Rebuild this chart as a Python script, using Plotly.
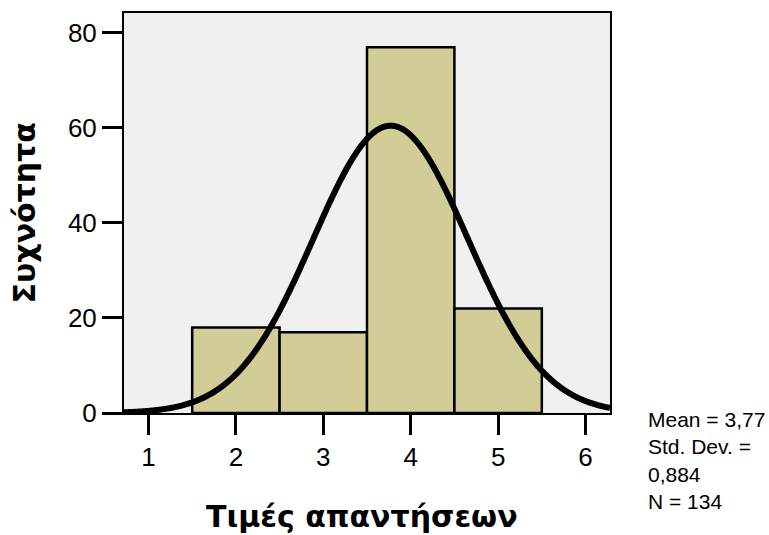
import numpy as np
import plotly.graph_objects as go

# Histogram bins (response values) and their frequencies
bin_centers = [2, 3, 4, 5]
frequencies = [18, 17, 77, 22]

# Summary statistics shown beside the chart
mean_value = 3.77
std_dev = 0.884
n_obs = 134

x_ticks = [1, 2, 3, 4, 5, 6]
y_ticks = [0, 20, 40, 60, 80]

x_range = [0.72, 6.28]
y_range = [0, 84.2]

x_title = "Τιμές απαντήσεων"
y_title = "Συχνότητα"

# Fitted normal curve scaled to counts (bin width = 1)
curve_x = np.linspace(x_range[0], x_range[1], 600)
curve_y = n_obs * 1.0 / (std_dev * np.sqrt(2 * np.pi)) * np.exp(
    -0.5 * ((curve_x - mean_value) / std_dev) ** 2
)

font_family = "Liberation Sans, Arial, sans-serif"
title_family = "DejaVu Sans, Verdana, sans-serif"

fig = go.Figure()
fig.add_trace(go.Bar(
    x=bin_centers,
    y=frequencies,
    width=1,
    marker=dict(color="#D2CD96", line=dict(color="black", width=2.5)),
    hoverinfo="x+y",
))
fig.add_trace(go.Scatter(
    x=curve_x,
    y=curve_y,
    mode="lines",
    line=dict(color="black", width=6, simplify=False),
    hoverinfo="skip",
))

axis_style = dict(
    ticks="outside",
    ticklen=20,
    tickwidth=3,
    tickcolor="black",
    tickfont=dict(size=26),
    showgrid=False,
    zeroline=False,
    showline=True,
    linecolor="black",
    linewidth=2,
    mirror=True,
    automargin=False,
)

stats_text = (
    f"Mean = {mean_value:.2f}".replace(".", ",")
    + "<br>Std. Dev. =<br>"
    + f"{std_dev:.3f}".replace(".", ",")
    + f"<br>N = {n_obs}"
)

fig.update_layout(
    width=769,
    height=535,
    margin=dict(l=124, r=159, t=13, b=122),
    paper_bgcolor="white",
    plot_bgcolor="#F0F0F0",
    showlegend=False,
    font=dict(family=font_family, color="black"),
    xaxis=dict(range=x_range, tickvals=x_ticks, **axis_style),
    yaxis=dict(range=y_range, tickvals=y_ticks, **axis_style),
    annotations=[
        # x-axis title
        dict(
            xref="paper", yref="paper",
            x=0.49, y=-0.258,
            xanchor="center", yanchor="middle",
            showarrow=False,
            text=f"<b>{x_title}</b>",
            font=dict(size=30, family=title_family, color="black"),
        ),
        # y-axis title
        dict(
            xref="paper", yref="paper",
            x=-0.204, y=0.501,
            xanchor="center", yanchor="middle",
            textangle=-90,
            showarrow=False,
            text=f"<b>{y_title}</b>",
            font=dict(size=30, family=title_family, color="black"),
        ),
        # summary statistics
        dict(
            xref="paper", yref="paper",
            x=1.074, y=0.017,
            xanchor="left", yanchor="top",
            align="left",
            showarrow=False,
            text=stats_text,
            font=dict(size=21, family=font_family, color="black"),
        ),
    ],
)

fig.write_html("out.html")
